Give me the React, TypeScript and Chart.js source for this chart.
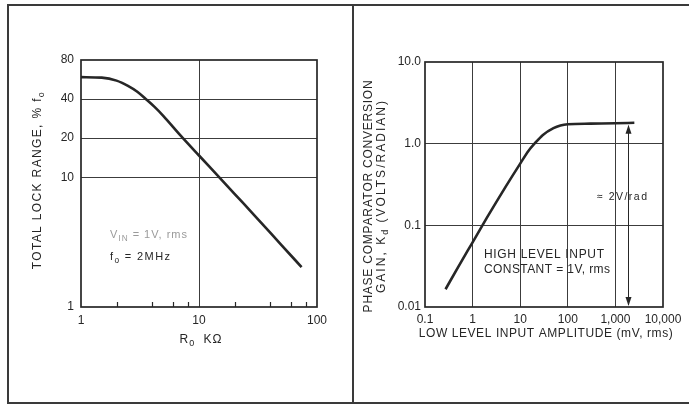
import React, { useEffect, useRef } from "react";
import { Chart, registerables } from "chart.js";

Chart.register(...registerables);

// ---------- Left chart: total lock range vs R0 ----------
const lockR = [1, 1.5, 2, 2.5, 3, 3.6, 4.2, 5, 6.9, 10, 15, 20, 30, 50, 74];
const lockRange = [59, 58.5, 55.5, 50.5, 45.5, 39.5, 34.8, 29.6, 21.2, 14.7, 9.9, 7.45, 5.0, 3.0, 2.03];
const lockXTicks = [1, 10, 100];
const lockXGrid = [10];
const lockXMinor = [2, 4, 6, 8, 20, 40, 60, 80];
const lockYTicks = [1, 10, 20, 40, 80];
const lockYGrid = [10, 20, 40];

// ---------- Right chart: phase comparator gain vs input amplitude ----------
const ampMv = [0.27, 0.5, 1, 2, 5, 10, 15, 20, 30, 50, 70, 100, 300, 1000, 2500];
const gainKd = [0.0165, 0.031, 0.062, 0.124, 0.3, 0.57, 0.82, 1.0, 1.28, 1.55, 1.67, 1.73, 1.76, 1.78, 1.8];
const ampXTicks = [0.1, 1, 10, 100, 1000, 10000];
const ampXLabels = ["0.1", "1", "10", "100", "1,000", "10,000"];
const ampXGrid = [1, 10, 100, 1000];
const gainYTicks = [0.01, 0.1, 1, 10];
const gainYLabels = ["0.01", "0.1", "1.0", "10.0"];
const gainYGrid = [0.1, 1];
const arrowAmp = 1800;
const arrowTop = 1.75;
const arrowBottom = 0.01;

const INK = "#262626";
const GRID = "#3c3c3c";
const FAMILY = '"Liberation Sans", Arial, Helvetica, sans-serif';

type Part = [string, boolean?];

function drawParts(
  ctx: CanvasRenderingContext2D,
  parts: Part[],
  x: number,
  y: number,
  o: { size: number; align?: "left" | "center"; width?: number; color?: string }
) {
  const fontFor = (sub?: boolean) => `${sub ? o.size * 0.75 : o.size}px ${FAMILY}`;
  ctx.save();
  (ctx as any).letterSpacing = "0px";
  let nat = 0;
  let n = 0;
  for (const [t, sub] of parts) {
    ctx.font = fontFor(sub);
    nat += ctx.measureText(t).width;
    n += t.length;
  }
  let ls = 0;
  if (o.width) ls = (o.width - nat) / Math.max(1, n - 1);
  (ctx as any).letterSpacing = `${ls}px`;
  let total = 0;
  for (const [t, sub] of parts) {
    ctx.font = fontFor(sub);
    total += ctx.measureText(t).width;
  }
  let cx = o.align === "center" ? x - total / 2 : x;
  ctx.fillStyle = o.color || INK;
  ctx.textBaseline = "middle";
  ctx.textAlign = "left";
  for (const [t, sub] of parts) {
    ctx.font = fontFor(sub);
    ctx.fillText(t, cx, sub ? y + o.size * 0.32 : y);
    cx += ctx.measureText(t).width;
  }
  ctx.restore();
}

function gridColor(list: number[]) {
  return (c: any) => {
    const v = c.tick ? c.tick.value : NaN;
    return list.some((g) => Math.abs(g - v) / g < 1e-6) ? GRID : "rgba(0,0,0,0)";
  };
}

function logAxis(
  min: number,
  max: number,
  ticks: number[],
  labels: string[],
  grid: number[],
  fit: (s: any) => void,
  pad: number
) {
  return {
    type: "logarithmic" as const,
    min,
    max,
    afterBuildTicks: (s: any) => {
      s.ticks = ticks.map((v) => ({ value: v }));
    },
    afterFit: fit,
    ticks: {
      autoSkip: false,
      maxRotation: 0,
      padding: pad,
      color: INK,
      font: { family: FAMILY, size: 12 },
      callback: (v: any) => {
        const i = ticks.findIndex((t) => Math.abs(t - Number(v)) / t < 1e-6);
        return i >= 0 ? labels[i] : "";
      },
    },
    grid: { color: gridColor(grid), lineWidth: 1, drawTicks: false },
    border: { display: false },
  };
}

const leftDecor = {
  id: "leftDecor",
  afterDraw(chart: any) {
    const { ctx, chartArea: a, scales } = chart;
    ctx.save();
    ctx.strokeStyle = INK;
    ctx.lineWidth = 1.7;
    ctx.strokeRect(a.left, a.top, a.right - a.left, a.bottom - a.top);
    ctx.lineWidth = 1.2;
    for (const v of lockXMinor) {
      const px = Math.round(scales.x.getPixelForValue(v)) + 0.5;
      ctx.beginPath();
      ctx.moveTo(px, a.bottom);
      ctx.lineTo(px, a.bottom - 5);
      ctx.stroke();
    }
    ctx.restore();
    // axis titles
    ctx.save();
    ctx.translate(38, 180);
    ctx.rotate(-Math.PI / 2);
    drawParts(ctx, [["TOTAL LOCK RANGE, % f"], ["o", true]], 0, 0, { size: 12, align: "center", width: 177 });
    ctx.restore();
    drawParts(ctx, [["R"], ["0", true], ["  KΩ"]], (a.left + a.right) / 2 + 2, a.bottom + 33, {
      size: 12,
      align: "center",
      width: 42,
    });
    // annotations
    drawParts(ctx, [["V"], ["IN", true], [" = 1V, rms"]], a.left + 29, a.top + 175, {
      size: 11,
      width: 77,
      color: "#9a9a9a",
    });
    drawParts(ctx, [["f"], ["o", true], [" = 2MHz"]], a.left + 29, a.top + 197, { size: 11, width: 60 });
  },
};

const rightDecor = {
  id: "rightDecor",
  afterDraw(chart: any) {
    const { ctx, chartArea: a, scales } = chart;
    ctx.save();
    ctx.strokeStyle = INK;
    ctx.lineWidth = 1.7;
    ctx.strokeRect(a.left, a.top, a.right - a.left, a.bottom - a.top);
    // dimension arrow
    const px = Math.round(scales.x.getPixelForValue(arrowAmp)) + 0.5;
    const yt = scales.y.getPixelForValue(arrowTop);
    const yb = scales.y.getPixelForValue(arrowBottom);
    ctx.lineWidth = 1;
    ctx.beginPath();
    ctx.moveTo(px, yt + 2);
    ctx.lineTo(px, yb - 2);
    ctx.stroke();
    ctx.fillStyle = INK;
    ctx.beginPath();
    ctx.moveTo(px, yt + 1);
    ctx.lineTo(px - 3, yt + 10);
    ctx.lineTo(px + 3, yt + 10);
    ctx.closePath();
    ctx.fill();
    ctx.beginPath();
    ctx.moveTo(px, yb - 1);
    ctx.lineTo(px - 3, yb - 10);
    ctx.lineTo(px + 3, yb - 10);
    ctx.closePath();
    ctx.fill();
    ctx.restore();
    // y title (two lines)
    ctx.save();
    ctx.translate(16, 196);
    ctx.rotate(-Math.PI / 2);
    drawParts(ctx, [["PHASE COMPARATOR CONVERSION"]], 0, 0, { size: 12, align: "center", width: 232 });
    ctx.restore();
    ctx.save();
    ctx.translate(29, 196);
    ctx.rotate(-Math.PI / 2);
    drawParts(ctx, [["GAIN, K"], ["d", true], [" (VOLTS/RADIAN)"]], 0, 0, { size: 12, align: "center", width: 192 });
    ctx.restore();
    // x title
    drawParts(ctx, [["LOW LEVEL INPUT AMPLITUDE (mV, rms)"]], (a.left + a.right) / 2 + 2, a.bottom + 27, {
      size: 12,
      align: "center",
      width: 254,
    });
    // annotations
    drawParts(ctx, [["≈ 2V/rad"]], a.left + 172, a.top + 135, { size: 10.5, width: 50 });
    drawParts(ctx, [["HIGH LEVEL INPUT"]], a.left + 59, a.top + 193, { size: 12, width: 120 });
    drawParts(ctx, [["CONSTANT = 1V, rms"]], a.left + 59, a.top + 208, { size: 12, width: 126 });
  },
};

function useChart(ref: React.RefObject<HTMLCanvasElement>, build: () => any) {
  useEffect(() => {
    if (!ref.current) return;
    const chart = new Chart(ref.current, build());
    return () => chart.destroy();
  }, []);
}

export default function App() {
  const leftRef = useRef<HTMLCanvasElement>(null);
  const rightRef = useRef<HTMLCanvasElement>(null);

  useEffect(() => {
    document.body.style.margin = "0";
  }, []);

  useChart(leftRef as any, () => ({
    type: "line",
    data: {
      datasets: [
        {
          data: lockR.map((x, i) => ({ x, y: lockRange[i] })),
          borderColor: INK,
          borderWidth: 2.6,
          pointRadius: 0,
          cubicInterpolationMode: "monotone",
          fill: false,
        },
      ],
    },
    options: {
      animation: false,
      responsive: false,
      events: [],
      layout: { padding: { left: 0, right: 36, top: 60, bottom: 0 } },
      plugins: { legend: { display: false }, tooltip: { enabled: false } },
      scales: {
        x: logAxis(1, 100, lockXTicks, lockXTicks.map(String), lockXGrid, (s: any) => {
          s.height = 98;
        }, 6),
        y: logAxis(1, 80, lockYTicks, lockYTicks.map(String), lockYGrid, (s: any) => {
          s.width = 81;
        }, 7),
      },
    },
    plugins: [leftDecor],
  }));

  useChart(rightRef as any, () => ({
    type: "line",
    data: {
      datasets: [
        {
          data: ampMv.map((x, i) => ({ x, y: gainKd[i] })),
          borderColor: INK,
          borderWidth: 2.6,
          pointRadius: 0,
          cubicInterpolationMode: "monotone",
          fill: false,
        },
      ],
    },
    options: {
      animation: false,
      responsive: false,
      events: [],
      layout: { padding: { left: 0, right: 26, top: 62, bottom: 0 } },
      plugins: { legend: { display: false }, tooltip: { enabled: false } },
      scales: {
        x: logAxis(0.1, 10000, ampXTicks, ampXLabels, ampXGrid, (s: any) => {
          s.height = 98;
        }, 5),
        y: logAxis(0.01, 10, gainYTicks, gainYLabels, gainYGrid, (s: any) => {
          s.width = 72;
        }, 4),
      },
    },
    plugins: [rightDecor],
  }));

  return (
    <div style={{ position: "fixed", left: 0, top: 0, width: 689, height: 405, background: "#fff", overflow: "hidden" }}>
      <canvas ref={leftRef} width={353} height={405} style={{ position: "absolute", left: 0, top: 0, width: 353, height: 405 }} />
      <canvas ref={rightRef} width={336} height={405} style={{ position: "absolute", left: 353, top: 0, width: 336, height: 405 }} />
      <div
        style={{
          position: "absolute",
          left: 7,
          top: 4,
          width: 690,
          height: 400,
          borderTop: "2px solid #3a3a3a",
          borderLeft: "2px solid #3a3a3a",
          borderBottom: "2px solid #3a3a3a",
          boxSizing: "border-box",
        }}
      />
      <div style={{ position: "absolute", left: 352, top: 4, width: 2, height: 400, background: "#3a3a3a" }} />
    </div>
  );
}
